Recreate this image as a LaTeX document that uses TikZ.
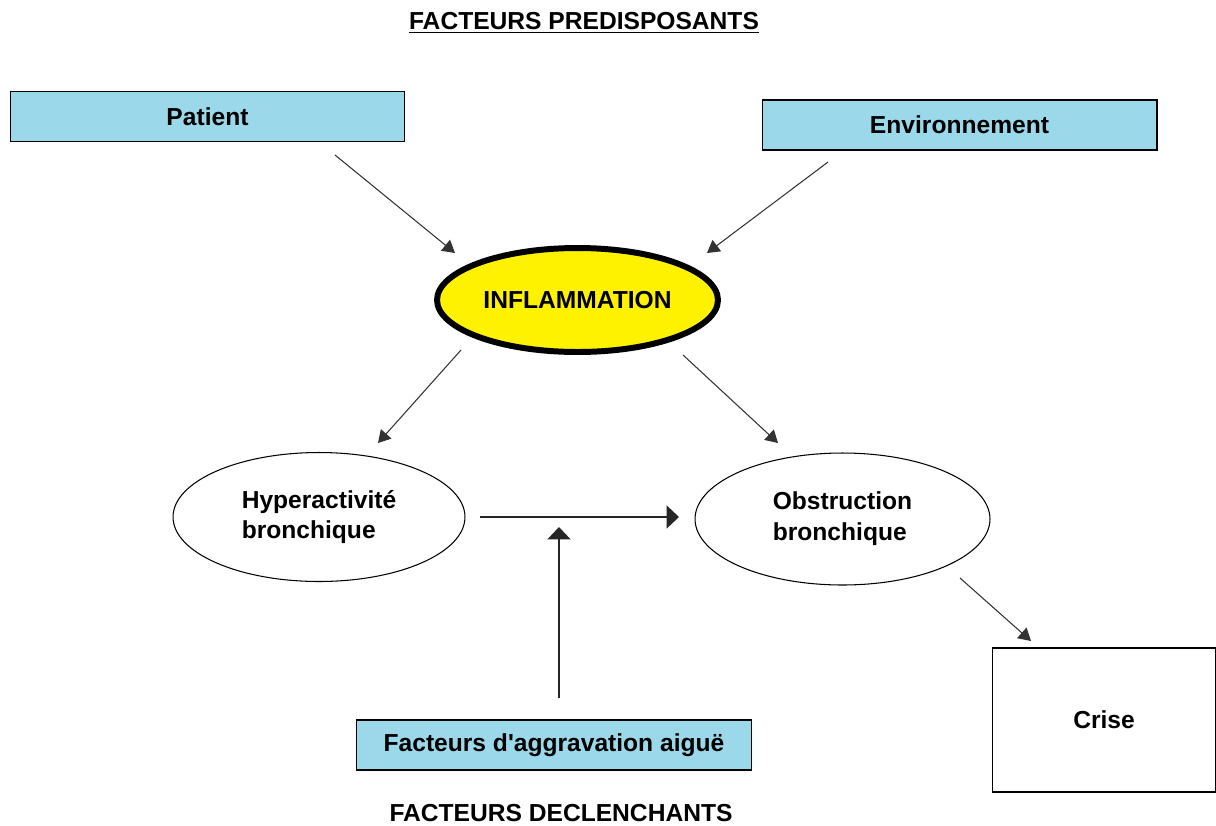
\documentclass[tikz,border=0pt]{standalone}
\usepackage{fontspec}
\setmainfont{Liberation Sans}
\usetikzlibrary{shapes.geometric,arrows.meta}

\definecolor{boxblue}{RGB}{155,217,234}
\definecolor{inflyellow}{RGB}{255,242,0}

\tikzset{
  txt/.style={font=\fontsize{14}{17.6}\selectfont\bfseries},
  cause/.style={txt, draw, semithick, fill=boxblue, minimum width=7.9cm, minimum height=1cm, inner sep=0},
  etat/.style={txt, draw, ellipse, semithick, fill=white, align=left, inner sep=0},
  lien/.style={draw=black!80, line width=0.6pt, -{Triangle[length=7pt,width=8pt]}},
  lienfort/.style={draw=black!85, line width=0.9pt, -{Triangle[length=7pt,width=13pt]}}
}

\begin{document}
\begin{tikzpicture}[x=0.02cm, y=-0.02cm]
        \useasboundingbox (0,0) rectangle (1216,825);
        % titres
        \node[txt] (predisp) at (584,23) {\underline{FACTEURS PREDISPOSANTS}};
        \node[txt] (declench) at (561,813) {FACTEURS DECLENCHANTS};
        % boites
        \node[cause] (patient) at (207.5,116.5) {Patient};
        \node[cause] (environ) at (959.5,125) {Environnement};
        \node[cause] (aggrav) at (554,745) {Facteurs d\textquotesingle aggravation aigu\"e};
        \node[txt, draw, semithick, minimum width=4.46cm, minimum height=2.88cm] (crise) at (1104,720) {Crise};
        % ellipses
        \node[txt, draw, ellipse, line width=3.4pt, fill=inflyellow, minimum width=5.62cm, minimum height=2.08cm, inner sep=0] (inflam) at (577.5,300) {INFLAMMATION};
        \node[etat, minimum width=5.84cm, minimum height=2.58cm] (hyper) at (319,517) {Hyperactivit\'e\\bronchique};
        \node[etat, minimum width=5.9cm, minimum height=2.64cm] (obstr) at (842.5,519) {Obstruction\\bronchique};
        % bouts libres des fleches
        \coordinate (p-out) at (335,155);
        \coordinate (i-in1) at (455,253);
        \coordinate (e-out) at (828,162);
        \coordinate (i-in2) at (707,253);
        \coordinate (i-out1) at (461,350);
        \coordinate (h-in) at (378,443);
        \coordinate (i-out2) at (683,355);
        \coordinate (o-in) at (778,443);
        \coordinate (h-out) at (480,517);
        \coordinate (o-in2) at (679,517);
        \coordinate (a-out) at (559,698);
        \coordinate (mid-in) at (559,527);
        \coordinate (o-out) at (960,578);
        \coordinate (c-in) at (1031,641);
        \begin{scope}[every edge/.append style={lien}]
                \path (p-out) edge (i-in1);
                \path (e-out) edge (i-in2);
                \path (i-out1) edge (h-in);
                \path (i-out2) edge (o-in);
                \path (o-out) edge (c-in);
        \end{scope}
        \begin{scope}[every edge/.append style={lienfort}]
                \path (h-out) edge (o-in2);
                \path (a-out) edge (mid-in);
        \end{scope}
\end{tikzpicture}
\end{document}
